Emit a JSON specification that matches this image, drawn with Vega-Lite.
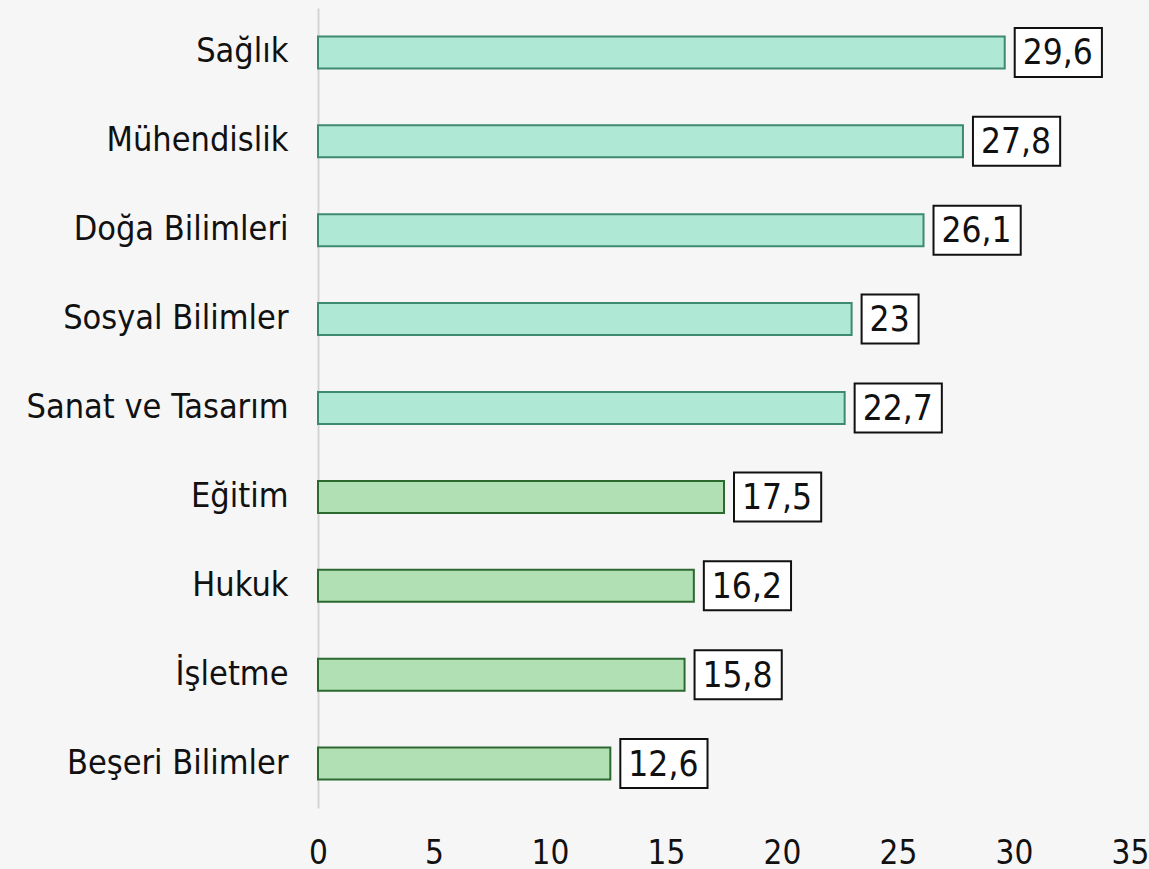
{
  "$schema": "https://vega.github.io/schema/vega-lite/v6.json",
  "width": 812,
  "height": 800,
  "autosize": "none",
  "padding": {"left": 318, "top": 8, "right": 19, "bottom": 61},
  "background": "#f6f6f6",
  "config": {
    "view": {"stroke": null},
    "locale": {"number": {"decimal": ",", "thousands": ".", "grouping": [3], "currency": ["", " ₺"]}},
    "font": "DejaVu Sans Condensed"
  },
  "data": {
    "values": [
      {"alan": "Sağlık", "deger": 29.6, "grup": "A"},
      {"alan": "Mühendislik", "deger": 27.8, "grup": "A"},
      {"alan": "Doğa Bilimleri", "deger": 26.1, "grup": "A"},
      {"alan": "Sosyal Bilimler", "deger": 23, "grup": "A"},
      {"alan": "Sanat ve Tasarım", "deger": 22.7, "grup": "A"},
      {"alan": "Eğitim", "deger": 17.5, "grup": "B"},
      {"alan": "Hukuk", "deger": 16.2, "grup": "B"},
      {"alan": "İşletme", "deger": 15.8, "grup": "B"},
      {"alan": "Beşeri Bilimler", "deger": 12.6, "grup": "B"}
    ]
  },
  "encoding": {
    "y": {
      "field": "alan",
      "type": "nominal",
      "sort": null,
      "title": null,
      "scale": {"paddingInner": 0, "paddingOuter": 0},
      "axis": {
        "domainColor": "#d4d4d4",
        "domainWidth": 2,
        "ticks": false,
        "labelPadding": 30,
        "labelFontSize": 34,
        "labelLimit": 0,
        "labelColor": "#111111",
        "labelFont": "DejaVu Sans Condensed"
      }
    }
  },
  "layer": [
    {
      "mark": {"type": "bar", "height": 32, "strokeWidth": 2},
      "encoding": {
        "x": {
          "field": "deger",
          "type": "quantitative",
          "title": null,
          "scale": {"domain": [0, 35], "nice": false},
          "axis": {
            "values": [0, 5, 10, 15, 20, 25, 30, 35],
            "domain": false,
            "ticks": false,
            "grid": false,
            "labelPadding": 29,
            "labelFontSize": 33,
            "labelColor": "#111111",
            "labelFont": "DejaVu Sans Condensed",
            "labelFlush": false,
            "format": "d"
          }
        },
        "fill": {
          "field": "grup",
          "type": "nominal",
          "scale": {"domain": ["A", "B"], "range": ["#b0e8d6", "#b0e0b4"]},
          "legend": null
        },
        "stroke": {
          "field": "grup",
          "type": "nominal",
          "scale": {"domain": ["A", "B"], "range": ["#3e8a6e", "#2d6a30"]},
          "legend": null
        }
      }
    },
    {
      "mark": {
        "type": "bar",
        "height": 49,
        "fill": "#ffffff",
        "stroke": "#111111",
        "strokeWidth": 2,
        "xOffset": 10,
        "x2Offset": {"expr": "27 + 20*length(format(datum.deger, '.1~f')) - (datum.deger % 1 != 0 ? 9.8 : 0)"}
      },
      "encoding": {
        "x": {"field": "deger", "type": "quantitative"},
        "x2": {"field": "deger"}
      }
    },
    {
      "mark": {
        "type": "text",
        "align": "left",
        "baseline": "middle",
        "dx": 18,
        "dy": 1,
        "fontSize": 35,
        "font": "DejaVu Sans Condensed",
        "color": "#111111"
      },
      "encoding": {
        "x": {"field": "deger", "type": "quantitative"},
        "text": {"field": "deger", "type": "quantitative", "format": ".1~f"}
      }
    }
  ]
}
